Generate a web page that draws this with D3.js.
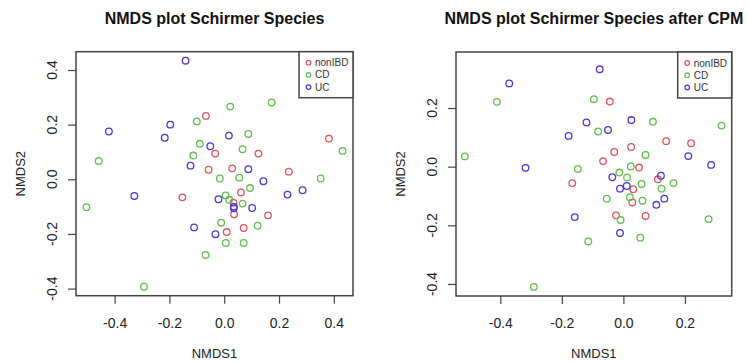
<!DOCTYPE html>
<html>
<head>
<meta charset="utf-8">
<script src="https://cdn.jsdelivr.net/npm/d3@7"></script>
<style>
  body { margin: 0; background: #fff; }
  svg { display: block; font-family: "Liberation Sans", Arial, Helvetica, sans-serif; }
</style>
</head>
<body>
<svg id="chart" width="748" height="362"></svg>
<script>
// groups and colours
const groups = ['nonIBD', 'CD', 'UC'];
const groupColors = ['#e0545f', '#62bd4f', '#4a38d4'];

const xTicksRaw = [-0.4, -0.2, 0.0, 0.2, 0.4];
const yTicksRaw = [-0.4, -0.2, 0.0, 0.2, 0.4];
const xTicksCpm = [-0.4, -0.2, 0.0, 0.2];
const yTicksCpm = [-0.4, -0.2, 0.0, 0.2];

// panel 1: NMDS on raw species
const rawNonIBD = [
  [-0.067, 0.232], [0.382, 0.149], [-0.033, 0.094], [0.125, 0.094], [-0.057, 0.035],
  [0.029, 0.040], [0.236, 0.028], [0.061, -0.048], [-0.153, -0.066], [0.034, -0.086],
  [0.036, -0.128], [0.160, -0.132], [0.009, -0.193], [0.071, -0.178]
];
const rawCD = [
  [0.173, 0.281], [0.022, 0.266], [-0.100, 0.212], [0.088, 0.166], [-0.089, 0.130],
  [0.067, 0.110], [-0.113, 0.087], [0.432, 0.104], [-0.458, 0.067], [-0.016, 0.003],
  [0.055, 0.006], [0.352, 0.003], [0.094, -0.032], [0.005, -0.059], [0.018, -0.075],
  [0.067, -0.089], [-0.503, -0.102], [-0.011, -0.159], [0.122, -0.170], [0.006, -0.233],
  [0.071, -0.233], [-0.068, -0.277], [-0.293, -0.393]
];
const rawUC = [
  [-0.141, 0.434], [-0.421, 0.175], [-0.197, 0.200], [-0.217, 0.152], [-0.051, 0.121],
  [0.017, 0.160], [-0.123, 0.050], [0.088, 0.037], [0.143, -0.007], [-0.328, -0.061],
  [-0.021, -0.073], [0.035, -0.100], [0.035, -0.106], [0.102, -0.105], [0.231, -0.056],
  [0.286, -0.040], [-0.110, -0.176], [-0.032, -0.201]
];

// panel 2: NMDS after CPM
const cpmNonIBD = [
  [-0.044, 0.222], [0.139, 0.087], [0.220, 0.080], [0.025, 0.067], [-0.030, 0.050],
  [-0.066, 0.019], [0.051, -0.003], [-0.166, -0.056], [0.112, -0.043], [0.032, -0.077],
  [0.029, -0.122], [-0.024, -0.166], [0.072, -0.168]
];
const cpmCD = [
  [-0.096, 0.230], [-0.411, 0.221], [0.096, 0.153], [-0.082, 0.120], [0.319, 0.140],
  [-0.515, 0.035], [0.072, 0.040], [-0.148, -0.008], [0.024, 0.001], [-0.013, -0.020],
  [0.012, -0.037], [0.059, -0.059], [0.124, -0.075], [0.163, -0.056], [-0.054, -0.109],
  [0.021, -0.104], [0.062, -0.116], [-0.009, -0.182], [0.277, -0.179], [-0.114, -0.255],
  [0.055, -0.242], [-0.291, -0.410]
];
const cpmUC = [
  [-0.077, 0.332], [-0.371, 0.284], [0.026, 0.159], [-0.120, 0.151], [-0.050, 0.125],
  [-0.178, 0.105], [0.211, 0.036], [0.285, 0.006], [-0.318, -0.004], [-0.036, -0.036],
  [0.122, -0.031], [-0.011, -0.075], [0.011, -0.066], [0.133, -0.109], [0.107, -0.130],
  [-0.158, -0.172], [-0.011, -0.226]
];

const svg = d3.select('#chart');

function drawPanel(opt) {
  const g = svg.append('g');
  const x = d3.scaleLinear().domain(opt.xDomain).range([opt.left, opt.right]);
  const y = d3.scaleLinear().domain(opt.yDomain).range([opt.bottom, opt.top]);
  const fmt = d3.format('.1f');
  const axisColor = '#444';

  // title
  g.append('text')
    .attr('x', (opt.left + opt.right) / 2)
    .attr('y', 24)
    .attr('text-anchor', 'middle')
    .attr('font-size', 16)
    .attr('font-weight', 'bold')
    .attr('fill', '#111')
    .text(opt.title);

  // x axis
  const xa = g.append('g')
    .attr('transform', `translate(0,${opt.bottom})`)
    .call(d3.axisBottom(x).tickValues(opt.xTicks).tickFormat(v => fmt(v).replace('−', '-'))
      .tickSize(8).tickPadding(14));
  xa.select('.domain').remove();
  xa.selectAll('line').attr('stroke', axisColor).attr('stroke-width', 1.2);
  xa.selectAll('text').attr('font-size', 14).attr('fill', '#222')
    .attr('font-family', '"Liberation Sans", Arial, sans-serif');

  // y axis, labels parallel to axis as in R
  const ya = g.append('g')
    .attr('transform', `translate(${opt.left},0)`)
    .call(d3.axisLeft(y).tickValues(opt.yTicks).tickFormat('').tickSize(8));
  ya.select('.domain').remove();
  ya.selectAll('line').attr('stroke', axisColor).attr('stroke-width', 1.2);
  g.append('g').selectAll('text')
    .data(opt.yTicks)
    .join('text')
    .attr('transform', d => `translate(${opt.left - 19},${y(d)}) rotate(-90)`)
    .attr('text-anchor', 'middle')
    .attr('font-size', 14)
    .attr('fill', '#222')
    .text(d => fmt(d).replace('−', '-'));

  // axis titles
  g.append('text')
    .attr('x', (opt.left + opt.right) / 2)
    .attr('y', 358)
    .attr('text-anchor', 'middle')
    .attr('font-size', 13)
    .attr('fill', '#222')
    .text('NMDS1');
  g.append('text')
    .attr('transform', `translate(${opt.left - 51},${(opt.top + opt.bottom) / 2}) rotate(-90)`)
    .attr('text-anchor', 'middle')
    .attr('font-size', 13)
    .attr('fill', '#222')
    .text('NMDS2');

  // points
  opt.series.forEach((pts, i) => {
    g.append('g').selectAll('circle')
      .data(pts)
      .join('circle')
      .attr('cx', d => x(d[0]))
      .attr('cy', d => y(d[1]))
      .attr('r', 3.3)
      .attr('fill', 'none')
      .attr('stroke', groupColors[i])
      .attr('stroke-width', 1.3);
  });

  // plot box
  g.append('rect')
    .attr('x', opt.left).attr('y', opt.top)
    .attr('width', opt.right - opt.left).attr('height', opt.bottom - opt.top)
    .attr('fill', 'none').attr('stroke', axisColor).attr('stroke-width', 1.5);

  // legend
  const lw = 54, lh = 46;
  const lg = g.append('g').attr('transform', `translate(${opt.right - lw},${opt.top})`);
  lg.append('rect').attr('width', lw).attr('height', lh)
    .attr('fill', '#fff').attr('stroke', axisColor).attr('stroke-width', 1.5);
  groups.forEach((name, i) => {
    const cy = 11 + i * 12.2;
    lg.append('circle').attr('cx', 9.5).attr('cy', cy).attr('r', 2.3)
      .attr('fill', 'none').attr('stroke', groupColors[i]).attr('stroke-width', 1.2);
    lg.append('text').attr('x', 16).attr('y', cy).attr('dy', '0.35em')
      .attr('font-size', 10).attr('fill', '#333').text(name);
  });
}

drawPanel({
  title: 'NMDS plot Schirmer Species',
  left: 76, right: 353, top: 51.7, bottom: 295.7,
  xDomain: [-0.541, 0.470], yDomain: [-0.426, 0.467],
  xTicks: xTicksRaw, yTicks: yTicksRaw,
  series: [rawNonIBD, rawCD, rawUC]
});

drawPanel({
  title: 'NMDS plot Schirmer Species after CPM',
  left: 456, right: 731.7, top: 52, bottom: 296,
  xDomain: [-0.544, 0.352], yDomain: [-0.441, 0.391],
  xTicks: xTicksCpm, yTicks: yTicksCpm,
  series: [cpmNonIBD, cpmCD, cpmUC]
});
</script>
</body>
</html>
